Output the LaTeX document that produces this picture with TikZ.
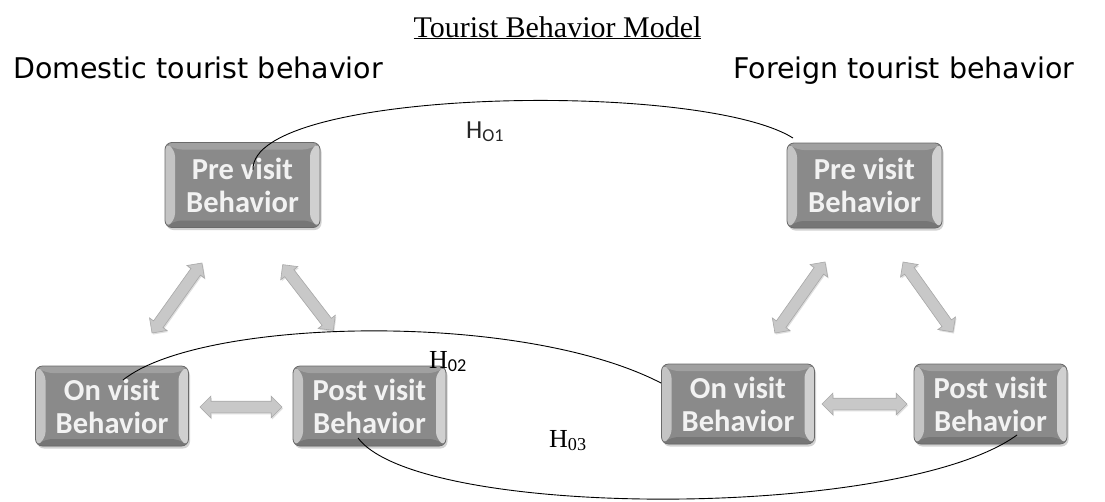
\documentclass[tikz,border=0pt]{standalone}
\usepackage{fontspec}
\setmainfont{Liberation Serif}
\newfontfamily\boxfont{Carlito}
\newfontfamily\headfont{DejaVu Sans}
\usetikzlibrary{shapes.arrows,shadows,calc}
\definecolor{boxgray}{HTML}{8A8A8A}
\definecolor{boxedge}{HTML}{6A6A6A}
\definecolor{bevside}{HTML}{C4C4C4}
\definecolor{bevtop}{HTML}{A0A0A0}
\definecolor{bevbot}{HTML}{767676}
\definecolor{arrowgray}{HTML}{C8C8C8}
\definecolor{arrowedge}{HTML}{A8A8A8}
\definecolor{boxtext}{HTML}{F2F2F2}
\tikzset{
  bx/.style={rounded corners=7pt, minimum width=153pt, minimum height=80pt,
    fill=boxgray, draw=boxedge, line width=0.8pt, text=boxtext,
    font=\boxfont\bfseries\fontsize{30.5}{33}\selectfont, align=center, inner sep=0pt,
    drop shadow={shadow xshift=1.5pt, shadow yshift=-2.5pt, opacity=0.35},
    path picture={
      \coordinate (SW) at (path picture bounding box.south west);
      \coordinate (NE) at (path picture bounding box.north east);
      \coordinate (NW) at (path picture bounding box.north west);
      \coordinate (SE) at (path picture bounding box.south east);
      \fill[bevtop] (NW) -- (NE) -- ([shift={(-10pt,-7pt)}]NE) -- ([shift={(10pt,-7pt)}]NW) -- cycle;
      \fill[bevbot] (SW) -- (SE) -- ([shift={(-10pt,7pt)}]SE) -- ([shift={(10pt,7pt)}]SW) -- cycle;
      \fill[bevside] (SW) -- (NW) -- ([shift={(10pt,-7pt)}]NW) -- ([shift={(10pt,7pt)}]SW) -- cycle;
      \fill[bevside!80!white] (SE) -- (NE) -- ([shift={(-10pt,-7pt)}]NE) -- ([shift={(-10pt,7pt)}]SE) -- cycle;
    }},
  prebx/.style={bx, minimum width=155pt, minimum height=85pt},
  dbl/.style={double arrow, double arrow head extend=5pt, inner xsep=0pt, inner ysep=5.5pt,
    fill=arrowgray, draw=arrowedge, line width=0.6pt,
    drop shadow={shadow xshift=1pt, shadow yshift=-1.5pt, opacity=0.25}},
  link/.style={draw=black, line width=0.9pt},
  headtxt/.style={font=\headfont\fontsize{28.5}{32}\selectfont, anchor=base west, inner sep=0pt},
  hsans/.style={font=\boxfont\fontsize{26}{30}\selectfont, anchor=base west, inner sep=0pt, text=black!85},
  hserif/.style={font=\fontsize{26}{30}\selectfont, anchor=base west, inner sep=0pt},
}
\begin{document}
\begin{tikzpicture}[x=1pt,y=-1pt]
\useasboundingbox (0,0) rectangle (1105,501);
\fill[white] (0,0) rectangle (1105,501);

% headings
\node[font=\fontsize{30}{34}\selectfont, anchor=base, inner sep=0pt] (title) at (557.5,37) {\underline{Tourist Behavior Model}};
\node[headtxt] (dom) at (13,78) {Domestic tourist behavior};
\node[headtxt] (for) at (733,78) {Foreign tourist behavior};

% curve end points
\coordinate (h1a) at (253,170);
\coordinate (h1b) at (793,138);
\coordinate (h2a) at (123,380);
\coordinate (h2b) at (661,383);
\coordinate (h3a) at (358,438);
\coordinate (h3b) at (1017,435);

% boxes
\node[prebx] (dpre)  at (242.5,185) {Pre visit\\Behavior};
\node[bx]    (don)   at (112,406)   {On visit\\Behavior};
\node[bx]    (dpost) at (369.5,406) {Post visit\\Behavior};
\node[prebx] (fpre)  at (864.5,185.5) {Pre visit\\Behavior};
\node[bx]    (fon)   at (738,404)   {On visit\\Behavior};
\node[bx]    (fpost) at (990.5,404) {Post visit\\Behavior};

% double block arrows
\node[dbl, minimum height=86pt, rotate=54.5]  (da1) at (177,298) {};
\node[dbl, minimum height=83pt, rotate=-52.4] (da2) at (308,297.5) {};
\node[dbl, minimum height=82pt]               (da3) at (241,407) {};
\node[dbl, minimum height=87pt, rotate=54.8]  (fa1) at (800,297.5) {};
\node[dbl, minimum height=86pt, rotate=-54.5] (fa2) at (928,297) {};
\node[dbl, minimum height=85pt]               (fa3) at (864.5,404) {};

% hypothesis curves
\draw[link] (h1a) .. controls (250,88) and (700,80) .. (h1b);
\draw[link] (h2a) .. controls (200,318) and (520,310) .. (h2b);
\draw[link] (h3a) .. controls (420,520) and (900,520) .. (h3b);

% labels
\node[hsans] (l1) at (466,138) {H\textsubscript{O1}};
\node[hserif] (l2) at (429,368) {H\textsubscript{\boxfont 02}};
\node[hserif] (l3) at (549,447) {H\textsubscript{03}};
\end{tikzpicture}
\end{document}
